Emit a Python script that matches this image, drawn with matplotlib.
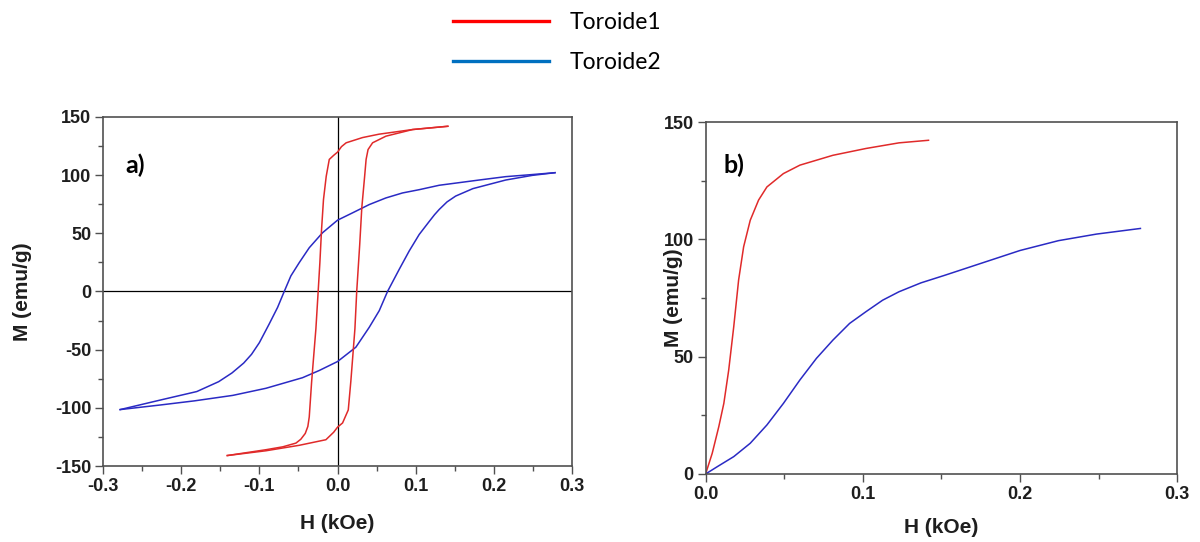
import matplotlib
matplotlib.use("Agg")
import matplotlib.pyplot as plt
from matplotlib.lines import Line2D
from matplotlib.ticker import MultipleLocator

# --- hysteresis loops (panel a) ---
# Toroide1, descending field branch
t1_down_h = [0.141, 0.096, 0.053, 0.032, 0.011, 0.005, 0.0, -0.005, -0.0106, -0.0145,
             -0.018, -0.0205, -0.0226, -0.0248, -0.0277, -0.0307, -0.0332, -0.0362, -0.038,
             -0.0413, -0.047, -0.0532, -0.07, -0.0916, -0.141]
t1_down_m = [142, 139.2, 135.2, 132.3, 127.8, 124.5, 119.8, 117, 113.5, 99,
             79, 53, 25, 0, -32, -57, -78, -107.8, -116,
             -122, -127, -130.3, -133.5, -136, -141]
# Toroide1, ascending field branch
t1_up_h = [-0.141, -0.0916, -0.049, -0.0149, -0.005, 0.0, 0.0064, 0.0137, 0.017, 0.0192,
           0.0222, 0.0245, 0.0283, 0.031, 0.0345, 0.0365, 0.039, 0.0448, 0.0619, 0.096, 0.141]
t1_up_m = [-141, -136.9, -132.2, -127.4, -121, -116.6, -113, -101.8, -77, -58,
           -32, 0, 40, 72, 98, 113.5, 122, 127.8, 133.5, 139.2, 142]

# Toroide2, descending field branch
t2_down_h = [0.278, 0.249, 0.215, 0.181, 0.155, 0.130, 0.1044, 0.0831, 0.0618, 0.0405,
             0.0192, 0.0, -0.0192, -0.0362, -0.049, -0.0597, -0.0682, -0.0767, -0.0874,
             -0.100, -0.110, -0.120, -0.135, -0.152, -0.180, -0.226, -0.278]
t2_down_m = [102.1, 100.5, 98.7, 95.8, 93.5, 91.3, 87.5, 84.7, 80.4, 74.7,
             67.6, 61.3, 50.5, 37.6, 24.8, 13.4, 0, -13.7, -27.9,
             -44, -54, -61.5, -70, -77.5, -86, -93.2, -101.5]
# Toroide2, ascending field branch
t2_up_h = [-0.278, -0.226, -0.183, -0.134, -0.0916, -0.0448, -0.0234, 0.0, 0.0234, 0.0405,
           0.0533, 0.0639, 0.0789, 0.0916, 0.1044, 0.117, 0.124, 0.130, 0.140, 0.151, 0.173,
           0.215, 0.249, 0.278]
t2_up_m = [-101.5, -97.5, -94, -89.3, -83.2, -74.1, -67.9, -60.2, -47.9, -30.8,
           -16.5, 0, 19.1, 34.8, 49, 60, 66, 70.5, 77, 82, 88.4,
           95.8, 99.8, 102.1]

# --- initial magnetization curves (panel b) ---
t1_init_h = [0, 0.0042, 0.0084, 0.0116, 0.0147, 0.0179, 0.021, 0.0242, 0.0284, 0.0337,
             0.039, 0.0495, 0.060, 0.081, 0.102, 0.123, 0.1418]
t1_init_m = [0, 8.8, 20.2, 30.1, 44.3, 62.8, 82.7, 96.9, 108.2, 116.8,
             122.4, 128.1, 131.7, 135.9, 138.8, 141.2, 142.3]
t2_init_h = [0, 0.0074, 0.0179, 0.0284, 0.039, 0.0495, 0.060, 0.0705, 0.081, 0.0916,
             0.102, 0.1126, 0.123, 0.137, 0.152, 0.176, 0.2, 0.2245, 0.2487, 0.2766]
t2_init_m = [0, 3.1, 7.4, 13.1, 20.9, 30.1, 40.1, 49.3, 57.1, 64.2,
             69.2, 74.1, 77.7, 81.5, 84.7, 90, 95.3, 99.5, 102.3, 104.7]

series_names = ["Toroide1", "Toroide2"]

RED = "#e02a2a"
BLUE = "#2a2ac4"
SPINE = "#505050"
TXT = "#1e1e1e"

plt.rcParams['font.family'] = ['Liberation Sans', 'DejaVu Sans']
plt.rcParams['axes.unicode_minus'] = False

fig = plt.figure(figsize=(12, 5.42), dpi=100)
ax_a = fig.add_axes([0.0858, 0.1402, 0.391, 0.644])
ax_b = fig.add_axes([0.588, 0.1255, 0.393, 0.649])


def style_axes(ax, ylabel_x, xlabel_y):
    for sp in ax.spines.values():
        sp.set_color(SPINE)
        sp.set_linewidth(1.2)
    ax.xaxis.set_major_locator(MultipleLocator(0.1))
    ax.xaxis.set_minor_locator(MultipleLocator(0.05))
    ax.yaxis.set_major_locator(MultipleLocator(50))
    ax.yaxis.set_minor_locator(MultipleLocator(25))
    ax.tick_params(which='major', direction='out', length=5.5, width=1.0,
                   color=SPINE, labelsize=13, pad=3)
    ax.tick_params(which='minor', direction='out', length=3.5, width=1.0, color=SPINE)
    ax.tick_params(top=False, right=False)
    for lab in ax.get_xticklabels() + ax.get_yticklabels():
        lab.set_fontweight('bold')
        lab.set_color(TXT)
    ax.set_xlabel("H (kOe)", fontsize=15, fontweight='bold', color=TXT)
    ax.set_ylabel("M (emu/g)", fontsize=15, fontweight='bold', color=TXT)
    ax.yaxis.set_label_coords(ylabel_x, 0.5)
    ax.xaxis.set_label_coords(0.5, xlabel_y)


# panel a: full loops
ax_a.axhline(0, color='black', lw=0.9, zorder=1)
ax_a.axvline(0, color='black', lw=0.9, zorder=1)
ax_a.plot(t1_down_h, t1_down_m, color=RED, lw=1.1, zorder=3)
ax_a.plot(t1_up_h, t1_up_m, color=RED, lw=1.1, zorder=3)
ax_a.plot(t2_down_h, t2_down_m, color=BLUE, lw=1.1, zorder=2)
ax_a.plot(t2_up_h, t2_up_m, color=BLUE, lw=1.1, zorder=2)
ax_a.set_xlim(-0.3, 0.3)
ax_a.set_ylim(-150, 150)
style_axes(ax_a, -0.151, -0.1375)
ax_a.text(0.047, 0.862, "a)", transform=ax_a.transAxes, fontsize=18,
          fontweight='bold', family=['Lato', 'DejaVu Sans'], va='center', ha='left')

# panel b: first magnetization
ax_b.plot(t1_init_h, t1_init_m, color=RED, lw=1.1)
ax_b.plot(t2_init_h, t2_init_m, color=BLUE, lw=1.1)
ax_b.set_xlim(0, 0.3)
ax_b.set_ylim(0, 150)
style_axes(ax_b, -0.047, -0.125)
ax_b.text(0.038, 0.878, "b)", transform=ax_b.transAxes, fontsize=18,
          fontweight='bold', family=['Lato', 'DejaVu Sans'], va='center', ha='left')

# shared legend on top
handles = [Line2D([], [], color='#ff0000', lw=2.4),
           Line2D([], [], color='#0070c0', lw=2.4)]
fig.legend(handles, series_names, loc='upper left', bbox_to_anchor=(0.3775, 0.978),
           frameon=False, borderpad=0, borderaxespad=0, handlelength=4.2,
           handletextpad=0.9, labelspacing=0.85,
           prop={'family': ['Lato', 'DejaVu Sans'], 'size': 16.5})

fig.savefig("out.png", dpi=100)
